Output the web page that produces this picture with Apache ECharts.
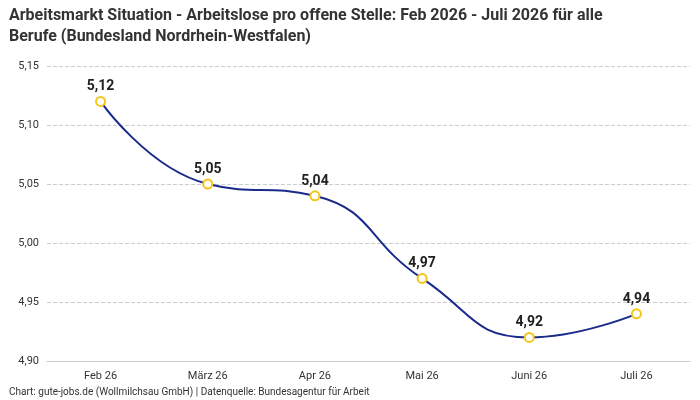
<!DOCTYPE html>
<html>
<head>
<meta charset="utf-8">
<script src="https://cdn.jsdelivr.net/npm/echarts@6/dist/echarts.min.js"></script>
<style>html,body{margin:0;padding:0;background:#fff}#main{width:700px;height:400px}</style>
</head>
<body>
<div id="main"></div>
<script>
var categories = ['Feb 26', 'März 26', 'Apr 26', 'Mai 26', 'Juni 26', 'Juli 26'];
var values = [5.12, 5.05, 5.04, 4.97, 4.92, 4.94];
var yTicks = [4.90, 4.95, 5.00, 5.05, 5.10, 5.15];

var myChart = echarts.init(document.getElementById('main'));

function fmt(v) {
	return v.toFixed(2).replace('.', ',');
}

var option = {
	textStyle: { fontFamily: 'Roboto' },
	title: [{
		text: 'Arbeitsmarkt Situation - Arbeitslose pro offene Stelle: Feb 2026 - Juli 2026 für alle\nBerufe (Bundesland Nordrhein-Westfalen)',
		left: 4, top: 0,
		textStyle: { fontSize: 16, fontWeight: 'bold', color: '#333', lineHeight: 21, fontFamily: 'Roboto' }
	}, {
		text: 'Chart: gute-jobs.de (Wollmilchsau GmbH) | Datenquelle: Bundesagentur für Arbeit',
		left: 4, top: 382,
		textStyle: { fontSize: 10, fontWeight: 'normal', color: '#333', fontFamily: 'Roboto' }
	}],
	grid: { left: 47, right: 10, top: 66, bottom: 39 },
	xAxis: {
		type: 'category',
		data: categories,
		axisLine: { lineStyle: { color: '#ccc' } },
		axisTick: { show: false },
		axisLabel: { color: '#333', fontSize: 11, margin: 10 }
	},
	yAxis: {
		type: 'value',
		min: yTicks[0],
		max: yTicks[yTicks.length - 1],
		interval: 0.05,
		axisLabel: { color: '#333', fontSize: 11, formatter: fmt },
		splitLine: { lineStyle: { type: 'dashed', color: '#ccc' } }
	},
	series: [{
		type: 'line',
		data: values,
		smooth: true,
		symbol: 'circle',
		symbolSize: 9,
		lineStyle: { color: '#1a2a8c', width: 2 },
		itemStyle: { color: '#fff', borderColor: '#f5c518', borderWidth: 2 },
		label: {
			show: true, position: 'top', distance: 2,
			fontSize: 14, fontWeight: 'bold', color: '#222',
			formatter: function(p) { return fmt(p.value); }
		}
	}]
};
myChart.setOption(option);
</script>
</body>
</html>
